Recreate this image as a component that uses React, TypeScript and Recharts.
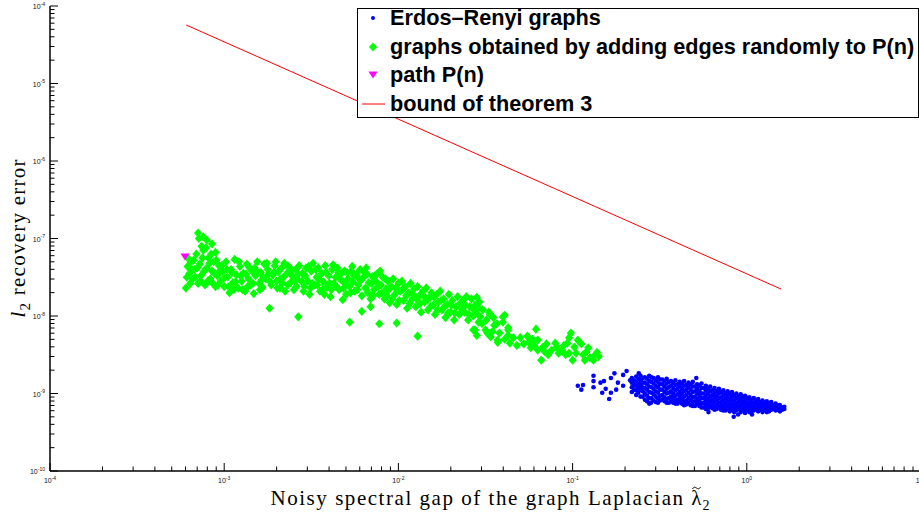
import React from 'react';
import { ScatterChart, Scatter, XAxis, YAxis } from 'recharts';

// ---------- axis ticks ----------
const X_DECADES = [1e-4, 1e-3, 1e-2, 1e-1, 1, 10];
const Y_DECADES = [1e-10, 1e-9, 1e-8, 1e-7, 1e-6, 1e-5, 1e-4];
const MINOR_MULTIPLIERS = [2, 3, 4, 5, 6, 7, 8, 9];

// ---------- data (log10 of spectral gap, log10 of recovery error) ----------
// Erdos-Renyi: scattered points
const erdosSparseLog: [number, number][] = [
  [-0.97, -8.9], [-0.94, -8.89], [-0.95, -8.95], [-0.88, -8.77], [-0.88, -8.84], [-0.88, -8.92],
  [-0.84, -8.86], [-0.82, -8.84], [-0.83, -8.99], [-0.81, -8.94], [-0.78, -8.8], [-0.76, -8.74],
  [-0.78, -8.99], [-0.79, -9.07], [-0.75, -8.95], [-0.74, -8.86], [-0.71, -8.76], [-0.69, -8.71],
  [-0.71, -8.9], [-0.67, -8.83], [-0.62, -8.74], [-0.29, -8.8],
  [-0.075, -9.3], [-0.22, -9.24], [-0.05, -9.27], [0.03, -9.27], [-0.55, -9.12],
];
// Erdos-Renyi: dense band, one column of error values per gap value
const erdosBandLog: [number, number[]][] = [
  [-0.66, [-8.8, -8.86, -8.92, -8.98]],
  [-0.6475, [-8.83, -8.89, -8.95]],
  [-0.635, [-8.78, -8.85, -8.9, -8.96, -9.02]],
  [-0.6225, [-8.81, -8.87, -8.93, -8.99]],
  [-0.61, [-8.77, -8.83, -8.89, -8.95, -9.04]],
  [-0.5975, [-8.8, -8.86, -8.92, -8.97, -9.04]],
  [-0.585, [-8.79, -8.86, -8.93, -9.0, -9.08]],
  [-0.5725, [-8.81, -8.88, -8.95, -9.03, -9.1]],
  [-0.56, [-8.77, -8.84, -8.91, -8.98, -9.06, -9.13]],
  [-0.5475, [-8.79, -8.85, -8.92, -8.99, -9.06]],
  [-0.535, [-8.8, -8.87, -8.94, -9.01, -9.09]],
  [-0.5225, [-8.83, -8.9, -8.97, -9.04, -9.11]],
  [-0.51, [-8.79, -8.85, -8.92, -8.99, -9.06, -9.12]],
  [-0.4975, [-8.82, -8.88, -8.95, -9.03, -9.09]],
  [-0.485, [-8.82, -8.88, -8.95, -9.02, -9.08]],
  [-0.4725, [-8.84, -8.91, -8.98, -9.05, -9.1]],
  [-0.46, [-8.81, -8.87, -8.94, -9.0, -9.07, -9.12]],
  [-0.4475, [-8.85, -8.92, -8.99, -9.06, -9.12]],
  [-0.435, [-8.84, -8.9, -8.97, -9.04, -9.1]],
  [-0.4225, [-8.86, -8.93, -9.0, -9.06, -9.12]],
  [-0.41, [-8.83, -8.89, -8.96, -9.03, -9.09, -9.13]],
  [-0.3975, [-8.88, -8.94, -9.01, -9.08, -9.13]],
  [-0.385, [-8.85, -8.91, -8.98, -9.05, -9.11]],
  [-0.3725, [-8.87, -8.94, -9.01, -9.07, -9.13]],
  [-0.36, [-8.84, -8.9, -8.97, -9.04, -9.1, -9.15]],
  [-0.3475, [-8.89, -8.95, -9.02, -9.09, -9.14]],
  [-0.335, [-8.86, -8.92, -8.99, -9.06, -9.12]],
  [-0.3225, [-8.88, -8.95, -9.02, -9.08, -9.15]],
  [-0.31, [-8.85, -8.91, -8.98, -9.05, -9.11, -9.16]],
  [-0.2975, [-8.91, -8.97, -9.04, -9.1, -9.16]],
  [-0.285, [-8.88, -8.94, -9.0, -9.07, -9.13]],
  [-0.2725, [-8.9, -8.97, -9.03, -9.1, -9.16]],
  [-0.26, [-8.87, -8.93, -9.0, -9.06, -9.13, -9.18]],
  [-0.2475, [-8.93, -9.0, -9.06, -9.12, -9.18]],
  [-0.235, [-8.9, -8.96, -9.03, -9.09, -9.15, -9.2]],
  [-0.2225, [-8.94, -9.0, -9.07, -9.13, -9.19]],
  [-0.21, [-8.91, -8.97, -9.04, -9.1, -9.16]],
  [-0.1975, [-8.96, -9.02, -9.08, -9.14, -9.19]],
  [-0.185, [-8.93, -8.99, -9.05, -9.11, -9.17, -9.21]],
  [-0.1725, [-8.97, -9.03, -9.09, -9.15, -9.2]],
  [-0.16, [-8.94, -9.0, -9.06, -9.12, -9.18]],
  [-0.1475, [-8.98, -9.05, -9.11, -9.16, -9.21]],
  [-0.135, [-8.96, -9.02, -9.08, -9.14, -9.19, -9.22]],
  [-0.1225, [-9.0, -9.06, -9.12, -9.17, -9.22]],
  [-0.11, [-8.97, -9.03, -9.09, -9.15, -9.2]],
  [-0.0975, [-9.01, -9.07, -9.13, -9.18, -9.23]],
  [-0.085, [-8.98, -9.04, -9.1, -9.16, -9.21]],
  [-0.0725, [-9.02, -9.08, -9.14, -9.19, -9.24]],
  [-0.06, [-9.0, -9.06, -9.12, -9.17, -9.22]],
  [-0.0475, [-9.04, -9.1, -9.15, -9.2]],
  [-0.035, [-9.01, -9.07, -9.13, -9.18, -9.24]],
  [-0.0225, [-9.05, -9.11, -9.16, -9.21]],
  [-0.01, [-9.03, -9.09, -9.14, -9.19, -9.25]],
  [0.0025, [-9.06, -9.12, -9.17, -9.22]],
  [0.015, [-9.05, -9.1, -9.15, -9.2, -9.24]],
  [0.0275, [-9.08, -9.13, -9.18, -9.23]],
  [0.04, [-9.06, -9.12, -9.17, -9.22]],
  [0.0525, [-9.1, -9.15, -9.2]],
  [0.065, [-9.07, -9.13, -9.18, -9.23]],
  [0.0775, [-9.11, -9.16, -9.21]],
  [0.09, [-9.09, -9.14, -9.19, -9.24]],
  [0.1025, [-9.12, -9.17, -9.22]],
  [0.115, [-9.1, -9.15, -9.2, -9.24]],
  [0.1275, [-9.13, -9.18, -9.23]],
  [0.14, [-9.11, -9.16, -9.21]],
  [0.1525, [-9.15, -9.2]],
  [0.165, [-9.13, -9.18, -9.22]],
  [0.1775, [-9.16, -9.21]],
  [0.19, [-9.15, -9.19, -9.23]],
  [0.2025, [-9.18, -9.21]],
  [0.215, [-9.17, -9.2]],
];

// graphs obtained by adding edges randomly to P(n)
const addedEdgesLog: [number, number][] = [
  [-3.22, -7.64], [-3.21, -7.36], [-3.2, -7.45], [-3.19, -7.3], [-3.18, -7.52], [-3.17, -7.4],
  [-3.16, -7.2], [-3.15, -6.93], [-3.15, -7.58], [-3.14, -7.33], [-3.13, -7.47], [-3.13, -7.1],
  [-3.12, -6.98], [-3.12, -7.15], [-3.11, -7.6], [-3.1, -7.02], [-3.1, -7.38], [-3.09, -7.25],
  [-3.08, -7.52], [-3.07, -7.07], [-3.07, -7.42], [-3.06, -7.3], [-3.05, -7.62], [-3.05, -7.18],
  [-3.04, -7.48], [-3.03, -7.35],
  [-3.215, -7.5], [-3.205, -7.26], [-3.195, -7.58], [-3.185, -7.4], [-3.175, -7.28], [-3.165, -7.5],
  [-3.155, -7.38], [-3.145, -7.0], [-3.135, -7.55], [-3.125, -7.25], [-3.115, -7.42], [-3.105, -7.12],
  [-3.095, -7.55], [-3.085, -7.32], [-3.075, -7.2], [-3.065, -7.58], [-3.055, -7.45], [-3.045, -7.28],
  [-3.035, -7.6], [-3.025, -7.42],
  [-3.02, -7.55], [-3.01, -7.42], [-3.0, -7.62], [-2.99, -7.3], [-2.98, -7.5], [-2.97, -7.7],
  [-2.96, -7.4], [-2.95, -7.57], [-2.94, -7.27], [-2.93, -7.47], [-2.92, -7.64], [-2.91, -7.36],
  [-2.9, -7.55], [-2.89, -7.45], [-2.88, -7.68], [-2.87, -7.33], [-2.86, -7.52], [-2.85, -7.6],
  [-2.84, -7.42], [-2.83, -7.71], [-2.82, -7.48], [-2.81, -7.3], [-2.8, -7.58], [-2.79, -7.44],
  [-2.78, -7.63], [-2.77, -7.33], [-2.76, -7.52], [-2.75, -7.4], [-2.74, -7.9], [-2.73, -7.6],
  [-2.72, -7.47], [-2.71, -7.35], [-2.7, -7.55], [-2.69, -7.43], [-2.68, -7.64], [-2.67, -7.38],
  [-2.66, -7.5], [-2.65, -7.68], [-2.64, -7.45], [-2.63, -7.36], [-2.62, -7.57], [-2.61, -7.48],
  [-2.6, -7.66], [-2.59, -7.4], [-2.58, -7.53], [-2.57, -7.35], [-2.575, -8.01],
  [-3.015, -7.35], [-2.995, -7.5], [-2.975, -7.62], [-2.955, -7.44], [-2.935, -7.56], [-2.915, -7.3],
  [-2.895, -7.66], [-2.875, -7.46], [-2.855, -7.38], [-2.835, -7.58], [-2.815, -7.42], [-2.795, -7.66],
  [-2.775, -7.5], [-2.755, -7.32], [-2.735, -7.56], [-2.715, -7.44], [-2.695, -7.64], [-2.675, -7.52],
  [-2.655, -7.32], [-2.635, -7.6], [-2.615, -7.4], [-2.595, -7.54], [-2.575, -7.46],
  [-2.985, -7.4], [-2.945, -7.66], [-2.905, -7.48], [-2.865, -7.62], [-2.825, -7.38], [-2.785, -7.54],
  [-2.745, -7.46], [-2.705, -7.3], [-2.665, -7.58], [-2.625, -7.44], [-2.585, -7.62],
  [-2.55, -7.45], [-2.54, -7.62], [-2.53, -7.38], [-2.52, -7.55], [-2.51, -7.72], [-2.5, -7.42],
  [-2.49, -7.32], [-2.48, -7.6], [-2.47, -7.5], [-2.46, -7.38], [-2.45, -7.68], [-2.44, -7.45],
  [-2.43, -7.56], [-2.42, -7.35], [-2.41, -7.63], [-2.4, -7.48], [-2.39, -7.75], [-2.38, -7.4],
  [-2.37, -7.58], [-2.36, -7.5], [-2.35, -7.38], [-2.34, -7.66], [-2.33, -7.45], [-2.32, -7.55],
  [-2.31, -7.42], [-2.32, -7.79],
  [-2.555, -7.55], [-2.535, -7.48], [-2.515, -7.36], [-2.495, -7.58], [-2.475, -7.4], [-2.455, -7.52],
  [-2.435, -7.66], [-2.415, -7.44], [-2.395, -7.58], [-2.375, -7.34], [-2.355, -7.62], [-2.335, -7.52],
  [-2.315, -7.64], [-2.545, -7.68], [-2.505, -7.64], [-2.465, -7.6], [-2.425, -7.72], [-2.385, -7.66],
  [-2.345, -7.44], [-2.305, -7.58],
  [-2.3, -7.72], [-2.29, -7.52], [-2.28, -7.62], [-2.27, -7.42], [-2.26, -7.56], [-2.25, -7.68],
  [-2.24, -7.46], [-2.23, -7.6], [-2.22, -7.4], [-2.21, -7.74], [-2.2, -7.5], [-2.19, -7.64],
  [-2.18, -7.46], [-2.17, -7.57], [-2.16, -7.78], [-2.15, -7.49], [-2.14, -7.66], [-2.13, -7.55],
  [-2.12, -7.45], [-2.11, -7.72], [-2.1, -7.6], [-2.09, -7.5], [-2.08, -7.78], [-2.07, -7.65],
  [-2.06, -7.55], [-2.05, -7.83],
  [-2.295, -7.44], [-2.275, -7.7], [-2.255, -7.48], [-2.235, -7.66], [-2.215, -7.54], [-2.195, -7.44],
  [-2.175, -7.7], [-2.155, -7.58], [-2.135, -7.48], [-2.115, -7.62], [-2.095, -7.7], [-2.075, -7.52],
  [-2.055, -7.66], [-2.265, -7.36], [-2.225, -7.52], [-2.185, -7.38], [-2.145, -7.74], [-2.105, -7.42],
  [-2.065, -7.74],
  [-2.28, -8.08], [-2.11, -8.1], [-2.21, -7.94], [-2.16, -7.88], [-2.01, -8.09], [-1.89, -8.26],
  [-2.04, -7.62], [-2.03, -7.52], [-2.02, -7.72], [-2.01, -7.85], [-2.0, -7.58], [-1.99, -7.68],
  [-1.98, -7.55], [-1.97, -7.8], [-1.96, -7.62], [-1.95, -7.9], [-1.94, -7.7], [-1.93, -7.58],
  [-1.92, -7.78], [-1.91, -7.65], [-1.9, -7.88], [-1.89, -7.62], [-1.88, -7.74], [-1.87, -7.95],
  [-1.86, -7.68], [-1.85, -7.82], [-1.84, -7.64], [-1.83, -7.92], [-1.82, -7.76], [-1.81, -7.7],
  [-1.8, -7.86], [-1.79, -7.98], [-1.78, -7.72], [-1.77, -7.82], [-1.76, -7.68], [-1.75, -7.92],
  [-1.74, -7.78], [-1.73, -8.02], [-1.72, -7.85], [-1.71, -7.72], [-1.7, -7.95], [-1.69, -7.8],
  [-1.68, -8.05], [-1.67, -7.88], [-1.66, -7.75], [-1.65, -7.98], [-1.64, -7.84],
  [-2.035, -7.78], [-2.015, -7.64], [-1.995, -7.8], [-1.975, -7.66], [-1.955, -7.74], [-1.935, -7.84],
  [-1.915, -7.72], [-1.895, -7.78], [-1.875, -7.84], [-1.855, -7.74], [-1.835, -7.8], [-1.815, -7.88],
  [-1.795, -7.76], [-1.775, -7.92], [-1.755, -7.8], [-1.735, -7.88], [-1.715, -7.96], [-1.695, -7.86],
  [-1.675, -7.96], [-1.655, -7.86], [-1.635, -7.92], [-1.615, -7.86], [-1.595, -7.98], [-1.575, -7.9],
  [-1.555, -7.96], [-1.535, -7.82], [-1.515, -7.92], [-1.495, -8.05], [-1.475, -7.98], [-1.455, -8.02],
  [-1.435, -8.1],
  [-1.63, -7.8], [-1.62, -7.95], [-1.61, -7.75], [-1.6, -8.05], [-1.59, -7.88], [-1.58, -7.78],
  [-1.57, -8.0], [-1.56, -7.86], [-1.55, -7.76], [-1.54, -8.08],
  [-1.48, -7.95], [-1.4, -8.01], [-1.56, -8.18], [-1.43, -8.31], [-1.36, -8.35], [-1.3, -8.28],
  [-1.25, -8.34], [-1.21, -8.17], [-1.2, -8.31], [-1.18, -8.57], [-1.14, -8.5], [-1.1, -8.35],
  [-1.09, -8.4], [-1.01, -8.22], [-1.03, -8.35], [-1.02, -8.48], [-1.0, -8.57], [-0.97, -8.31],
  [-0.91, -8.41], [-0.93, -8.57], [-0.88, -8.57], [-1.37, -8.15],
  [-1.54, -7.9], [-1.53, -8.01], [-1.57, -8.18], [-1.55, -8.25], [-1.5, -8.18], [-1.47, -8.27],
  [-1.45, -8.12], [-1.43, -8.34], [-1.4, -8.08], [-1.37, -8.18], [-1.37, -8.25], [-1.39, -7.99],
  [-1.24, -8.41], [-1.2, -8.44], [-1.16, -8.46], [-1.06, -8.44], [-1.04, -8.5], [-0.99, -8.4],
  [-0.85, -8.52], [-0.86, -8.47],
  [-1.52, -8.1], [-1.49, -8.22], [-1.46, -8.2], [-1.42, -8.22], [-1.39, -8.3], [-1.34, -8.28],
  [-1.32, -8.38], [-1.28, -8.36], [-1.26, -8.26], [-1.23, -8.3], [-1.22, -8.38], [-1.17, -8.4],
  [-1.15, -8.36], [-1.12, -8.44], [-1.08, -8.48], [-1.05, -8.38], [-1.02, -8.28], [-0.98, -8.48],
  [-0.95, -8.36], [-0.94, -8.5], [-0.92, -8.46], [-0.9, -8.54], [-0.87, -8.5],
];

const pathLog: [number, number][] = [[-3.225, -7.239]];

const boundLog: [number, number][] = [
  [-3.218, -4.245],
  [0.196, -7.652],
];

const toPoints = (arr: [number, number][]) => arr.map(([lx, ly]) => ({ x: Math.pow(10, lx), y: Math.pow(10, ly) }));

const erdosData = [
  ...toPoints(erdosSparseLog),
  ...erdosBandLog.flatMap(([lx, ys]) => toPoints(ys.map((ly) => [lx, ly] as [number, number]))),
];
const addedData = toPoints(addedEdgesLog);
const pathData = toPoints(pathLog);
const boundData = toPoints(boundLog);

const withMinors = (decades: number[]) => {
  const out: number[] = [];
  decades.forEach((d, i) => {
    out.push(d);
    if (i < decades.length - 1) MINOR_MULTIPLIERS.forEach((m) => out.push(d * m));
  });
  return out;
};
const xTicks = withMinors(X_DECADES);
const yTicks = withMinors(Y_DECADES);

const isMajor = (v: number) => {
  const l = Math.log10(v);
  return Math.abs(l - Math.round(l)) < 1e-6;
};

// ---------- layout ----------
const W = 932;
const H = 514;
const MARGIN = { top: 6, right: 11, bottom: 0, left: 0 };
const MAJOR = 8;
const MINOR = 4.5;
const TICK_FONT = '"Liberation Sans", Arial, Helvetica, sans-serif';
const SERIF = '"Liberation Serif", "Times New Roman", serif';

const Pow10 = ({ x, y, anchor, exp }: any) => (
  <text x={x} y={y} textAnchor={anchor} fontFamily={TICK_FONT} fontSize={7} fill="#111">
    10
    <tspan dy={-3.5} fontSize={5}>{exp}</tspan>
  </text>
);

const BottomTick = (props: any) => {
  const { x, y, payload } = props;
  const major = isMajor(payload.value);
  return (
    <g>
      <line x1={x} x2={x} y1={y} y2={y - (major ? MAJOR : MINOR)} stroke="#000" strokeWidth={1} />
      {major && <Pow10 x={x} y={y + 12} anchor="middle" exp={String(Math.round(Math.log10(payload.value)))} />}
    </g>
  );
};

const TopTick = (props: any) => {
  const { x, y, payload } = props;
  const major = isMajor(payload.value);
  return <line x1={x} x2={x} y1={y} y2={y + (major ? MAJOR : MINOR)} stroke="#000" strokeWidth={1} />;
};

const LeftTick = (props: any) => {
  const { x, y, payload } = props;
  const major = isMajor(payload.value);
  return (
    <g>
      <line x1={x} x2={x + (major ? MAJOR : MINOR)} y1={y} y2={y} stroke="#000" strokeWidth={1} />
      {major && <Pow10 x={x - 5} y={y + 3} anchor="end" exp={String(Math.round(Math.log10(payload.value)))} />}
    </g>
  );
};

const RightTick = (props: any) => {
  const { x, y, payload } = props;
  const major = isMajor(payload.value);
  return <line x1={x} x2={x - (major ? MAJOR : MINOR)} y1={y} y2={y} stroke="#000" strokeWidth={1} />;
};

const XLabel = (props: any) => {
  const vb = props.viewBox || {};
  const cx = vb.x + vb.width / 2 + 5;
  const base = vb.y + 34;
  const left = cx - 220;
  const lamEnd = cx + 211;
  const tx = lamEnd - 5;
  const ty = base - 17;
  return (
    <g>
      <text x={left} y={base} textAnchor="start" fontFamily={SERIF} fontSize={21} fill="#000" textLength={431}>
        Noisy spectral gap of the graph Laplacian {'\u03BB'}
      </text>
      <path
        d={`M ${tx - 4} ${ty + 1} C ${tx - 2.5} ${ty - 1.5} ${tx - 1.5} ${ty - 1} ${tx} ${ty} C ${tx + 1.5} ${ty + 1} ${tx + 2.5} ${ty + 1.5} ${tx + 4} ${ty - 1}`}
        fill="none"
        stroke="#000"
        strokeWidth={1}
      />
      <text x={lamEnd + 1} y={base + 5} textAnchor="start" fontFamily={SERIF} fontSize={14} fill="#000">
        2
      </text>
    </g>
  );
};

const YLabel = (props: any) => {
  const vb = props.viewBox || {};
  const cy = vb.y + vb.height / 2;
  return (
    <g transform={`translate(${vb.x + 25}, ${cy}) rotate(-90)`}>
      <text x={0} y={0} textAnchor="middle" fontFamily={SERIF} fontSize={21} fill="#000" textLength={158}>
        <tspan fontStyle="italic">l</tspan>
        <tspan dy={5} fontSize={15}>2</tspan>
        <tspan dy={-5}> recovery error</tspan>
      </text>
    </g>
  );
};

const Dot = (p: any) => <circle cx={p.cx} cy={p.cy} r={2.3} fill="#0000ff" />;
const Diamond = (p: any) => (
  <polygon
    points={`${p.cx},${p.cy - 4.6} ${p.cx + 4.1},${p.cy} ${p.cx},${p.cy + 4.6} ${p.cx - 4.1},${p.cy}`}
    fill="#00ff00"
  />
);
const TriDown = (p: any) => (
  <polygon
    points={`${p.cx - 4.5},${p.cy - 3.5} ${p.cx + 4.5},${p.cy - 3.5} ${p.cx},${p.cy + 3.5}`}
    fill="#ff00ff"
  />
);
const NoShape = () => <g />;

const legendItems = [
  { name: 'Erdos\u2013Renyi graphs', kind: 'dot' },
  { name: 'graphs obtained by adding edges randomly to P(n)', kind: 'diamond' },
  { name: 'path P(n)', kind: 'tri' },
  { name: 'bound of theorem 3', kind: 'line' },
];

const LegendMarker = ({ kind }: { kind: string }) => (
  <svg width={30} height={20} style={{ position: 'absolute', left: 0, top: 0 }}>
    {kind === 'dot' && <circle cx={15} cy={10} r={2} fill="#0000ff" />}
    {kind === 'diamond' && <polygon points="15,5.4 19,10 15,14.6 11,10" fill="#00ff00" />}
    {kind === 'tri' && <polygon points="10.5,6.5 19.5,6.5 15,13.5" fill="#ff00ff" />}
    {kind === 'line' && <line x1={4} x2={27} y1={10} y2={10} stroke="#ff0000" strokeWidth={1} />}
  </svg>
);

const Legend = () => (
  <div
    style={{
      position: 'absolute',
      left: 357,
      top: 8,
      width: 562,
      height: 110,
      border: '1px solid #000',
      background: '#fff',
      boxSizing: 'border-box',
    }}
  >
    {legendItems.map((it, i) => (
      <div key={it.name} style={{ position: 'absolute', left: 0, top: -1 + i * 28.7, height: 20, width: 560 }}>
        <LegendMarker kind={it.kind} />
        <span
          style={{
            position: 'absolute',
            left: 32,
            top: -3,
            fontFamily: '"Liberation Sans", Arial, sans-serif',
            fontWeight: 'bold',
            fontSize: 21.7,
            lineHeight: '26px',
            whiteSpace: 'nowrap',
            color: '#000',
          }}
        >
          {it.name}
        </span>
      </div>
    ))}
  </div>
);

export default function App() {
  return (
    <div style={{ position: 'absolute', left: 0, top: 0, width: 919, height: 514, overflow: 'hidden', background: '#fff' }}>
      <ScatterChart width={W} height={H} margin={MARGIN}>
        <XAxis
          xAxisId="b"
          dataKey="x"
          type="number"
          scale="log"
          domain={[1e-4, 10]}
          allowDataOverflow
          ticks={xTicks}
          interval={0}
          tickSize={0}
          tickMargin={0}
          tickLine={false}
          tick={<BottomTick />}
          axisLine={{ stroke: '#000', strokeWidth: 1.5 }}
          height={43}
          label={<XLabel />}
        />
        <XAxis
          xAxisId="t"
          orientation="top"
          dataKey="x"
          type="number"
          scale="log"
          domain={[1e-4, 10]}
          allowDataOverflow
          ticks={xTicks}
          interval={0}
          tickSize={0}
          tickMargin={0}
          tickLine={false}
          tick={<TopTick />}
          axisLine={{ stroke: '#000', strokeWidth: 1.5 }}
          height={0}
        />
        <YAxis
          yAxisId="l"
          dataKey="y"
          type="number"
          scale="log"
          domain={[1e-10, 1e-4]}
          allowDataOverflow
          ticks={yTicks}
          interval={0}
          tickSize={0}
          tickMargin={0}
          tickLine={false}
          tick={<LeftTick />}
          axisLine={{ stroke: '#000', strokeWidth: 1.5 }}
          width={50}
          label={<YLabel />}
        />
        <YAxis
          yAxisId="r"
          orientation="right"
          dataKey="y"
          type="number"
          scale="log"
          domain={[1e-10, 1e-4]}
          allowDataOverflow
          ticks={yTicks}
          interval={0}
          tickSize={0}
          tickMargin={0}
          tickLine={false}
          tick={<RightTick />}
          axisLine={{ stroke: '#000', strokeWidth: 1.5 }}
          width={0}
        />
        <Scatter name="Erdos-Renyi graphs" data={erdosData} xAxisId="b" yAxisId="l" shape={Dot} isAnimationActive={false} />
        <Scatter name="graphs obtained by adding edges randomly to P(n)" data={addedData} xAxisId="b" yAxisId="l" shape={Diamond} isAnimationActive={false} />
        <Scatter name="path P(n)" data={pathData} xAxisId="b" yAxisId="l" shape={TriDown} isAnimationActive={false} />
        <Scatter
          name="bound of theorem 3"
          data={boundData}
          xAxisId="b"
          yAxisId="l"
          shape={NoShape}
          line={{ stroke: '#ff0000', strokeWidth: 1 }}
          isAnimationActive={false}
        />
      </ScatterChart>
      <Legend />
    </div>
  );
}
